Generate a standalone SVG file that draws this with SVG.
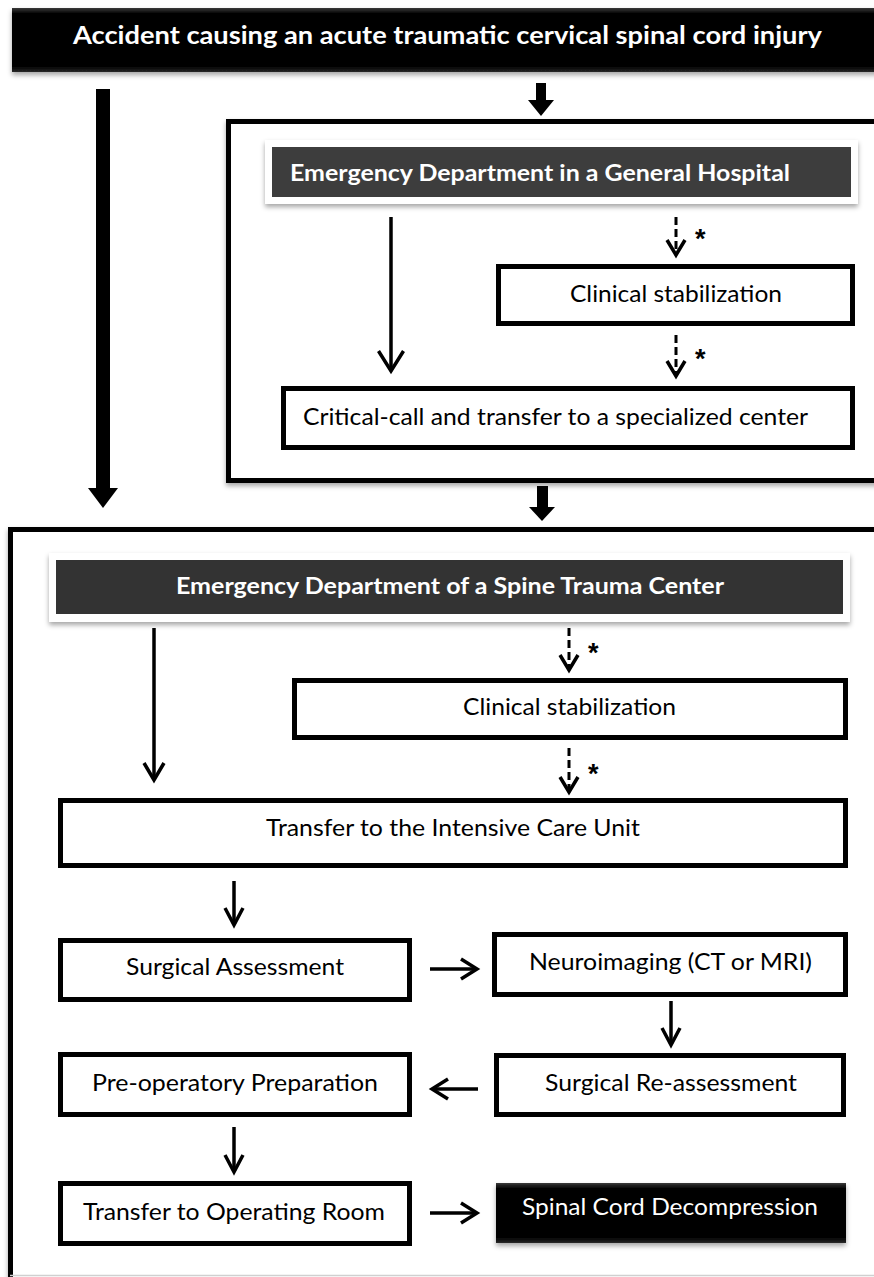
<svg xmlns="http://www.w3.org/2000/svg" width="874" height="1277" viewBox="0 0 874 1277">
<defs>
<style>
.box{fill:#fff;stroke:#000;stroke-width:5}
.cont{fill:#fff;stroke:#000;stroke-width:5}
.t{font-family:Lato,"Open Sans","Liberation Sans",sans-serif;font-size:22.5px;fill:#000;text-anchor:start}
.tw{font-family:Lato,"Open Sans","Liberation Sans",sans-serif;fill:#fff;font-weight:bold}
.ln{stroke:#000;fill:none;stroke-width:3.5}
.hd{stroke:#000;fill:none;stroke-width:3.5;stroke-linejoin:miter;stroke-linecap:butt}
.dash{stroke:#000;fill:none;stroke-width:3;stroke-dasharray:8 4}
.ast{font-family:"Liberation Sans",Arial,sans-serif;font-weight:bold;font-size:27px;fill:#000}
</style>
<filter id="sh" x="-5%" y="-20%" width="110%" height="150%">
<feDropShadow dx="0" dy="3" stdDeviation="2.5" flood-color="#000" flood-opacity="0.35"/>
</filter>
<linearGradient id="blk" x1="0" y1="0" x2="0" y2="1">
<stop offset="0" stop-color="#3a3a3a"/>
<stop offset="0.08" stop-color="#050505"/>
<stop offset="0.92" stop-color="#050505"/>
<stop offset="1" stop-color="#2a2a2a"/>
</linearGradient>
</defs>

<g id="accident">
<rect x="12" y="8" width="870" height="64" fill="url(#blk)" filter="url(#sh)"/>
<text class="tw" x="73" y="44" font-size="25" textLength="749" lengthAdjust="spacingAndGlyphs">Accident causing an acute traumatic cervical spinal cord injury</text>
</g>

<g id="general-hospital">
<rect class="cont" x="228.5" y="121.5" width="660" height="359" filter="url(#sh)"/>
</g>

<g id="ed-general">
<rect x="265" y="140" width="593" height="64" fill="#fff" filter="url(#sh)"/>
<rect x="272" y="147" width="579" height="50" fill="#3d3d3d"/>
<text class="tw" x="290" y="181" font-size="23" textLength="500" lengthAdjust="spacingAndGlyphs">Emergency Department in a General Hospital</text>
</g>

<g id="clin-stab-1">
<rect class="box" x="498.5" y="266.5" width="354" height="57"/>
<text class="t" x="570" y="302" textLength="212" lengthAdjust="spacingAndGlyphs">Clinical stabilization</text>
</g>

<g id="critical-call">
<rect class="box" x="283.5" y="388.5" width="569" height="59"/>
<text class="t" x="303" y="425" textLength="505" lengthAdjust="spacingAndGlyphs">Critical-call and transfer to a specialized center</text>
</g>

<g id="spine-center">
<rect class="cont" x="10.5" y="529.5" width="880" height="770" filter="url(#sh)"/>
<line x1="10" y1="1275.5" x2="874" y2="1275.5" stroke="#d0d0d0" stroke-width="1.5"/>
</g>

<g id="ed-spine">
<rect x="49" y="553" width="801" height="69" fill="#fff" filter="url(#sh)"/>
<rect x="56" y="560" width="787" height="54" fill="#333"/>
<text class="tw" x="176" y="594" font-size="23" textLength="548" lengthAdjust="spacingAndGlyphs">Emergency Department of a Spine Trauma Center</text>
</g>

<g id="clin-stab-2">
<rect class="box" x="294.5" y="680.5" width="551" height="57"/>
<text class="t" x="463" y="715" textLength="213" lengthAdjust="spacingAndGlyphs">Clinical stabilization</text>
</g>

<g id="icu">
<rect class="box" x="60.5" y="800.5" width="785" height="65"/>
<text class="t" x="266" y="836" textLength="374" lengthAdjust="spacingAndGlyphs">Transfer to the Intensive Care Unit</text>
</g>

<g id="surgical-assessment">
<rect class="box" x="60.5" y="940.5" width="349" height="59"/>
<text class="t" x="126" y="975" textLength="218" lengthAdjust="spacingAndGlyphs">Surgical Assessment</text>
</g>

<g id="neuroimaging">
<rect class="box" x="494.5" y="934.5" width="351" height="60"/>
<text class="t" x="529" y="970" textLength="283" lengthAdjust="spacingAndGlyphs">Neuroimaging (CT or MRI)</text>
</g>

<g id="surgical-reassessment">
<rect class="box" x="496.5" y="1055.5" width="347" height="59"/>
<text class="t" x="545" y="1091" textLength="252" lengthAdjust="spacingAndGlyphs">Surgical Re-assessment</text>
</g>

<g id="preop">
<rect class="box" x="60.5" y="1054.5" width="349" height="60"/>
<text class="t" x="92" y="1091" textLength="286" lengthAdjust="spacingAndGlyphs">Pre-operatory Preparation</text>
</g>

<g id="transfer-or">
<rect class="box" x="60.5" y="1183.5" width="349" height="60"/>
<text class="t" x="83" y="1220" textLength="302" lengthAdjust="spacingAndGlyphs">Transfer to Operating Room</text>
</g>

<g id="decompression">
<rect x="496" y="1183" width="350" height="60" fill="url(#blk)" filter="url(#sh)"/>
<text class="tw" x="522" y="1215" font-size="22.5" style="font-weight:normal" textLength="296" lengthAdjust="spacingAndGlyphs">Spinal Cord Decompression</text>
</g>

<g id="connectors">
<rect x="96" y="89" width="14" height="401" fill="#000"/>
<polygon points="88,488 118,488 103,508" fill="#000"/>
<rect x="536" y="83" width="10" height="19" fill="#000"/>
<polygon points="528,100 554,100 541,116" fill="#000"/>
<rect x="537" y="486" width="11" height="23" fill="#000"/>
<polygon points="529,507 555,507 542,521" fill="#000"/>

<line class="ln" x1="391" y1="217" x2="391" y2="370" stroke-width="4"/>
<path class="hd" d="M378.5,351 L391,371 L403.5,351" stroke-width="4.5"/>
<line class="dash" x1="676" y1="217" x2="676" y2="253"/>
<path class="hd" d="M667,240 L676,255 L685,240"/>
<text class="ast" x="695" y="248">*</text>
<line class="dash" x1="676" y1="335" x2="676" y2="374"/>
<path class="hd" d="M667,361 L676,376 L685,361"/>
<text class="ast" x="695" y="368">*</text>

<line class="ln" x1="154" y1="628" x2="154" y2="779" stroke-width="2.5"/>
<path class="hd" d="M144,763 L154,780 L164,763" stroke-width="3"/>
<line class="dash" x1="569" y1="628" x2="569" y2="668"/>
<path class="hd" d="M560,655 L569,670 L578,655"/>
<text class="ast" x="588" y="662">*</text>
<line class="dash" x1="569" y1="748" x2="569" y2="790"/>
<path class="hd" d="M560,777 L569,792 L578,777"/>
<text class="ast" x="588" y="783">*</text>

<line class="ln" x1="234" y1="881" x2="234" y2="924" stroke-width="3"/>
<path class="hd" d="M225,908 L234,925 L243,908" stroke-width="3"/>

<line class="ln" x1="430" y1="969" x2="475" y2="969" stroke-width="3"/>
<path class="hd" d="M461,959 L477,969 L461,979" stroke-width="3"/>

<line class="ln" x1="671" y1="1001" x2="671" y2="1044" stroke-width="3"/>
<path class="hd" d="M662,1028 L671,1045 L680,1028" stroke-width="3"/>

<line class="ln" x1="478" y1="1089" x2="434" y2="1089" stroke-width="3"/>
<path class="hd" d="M448,1079 L432,1089 L448,1099" stroke-width="3"/>

<line class="ln" x1="234" y1="1127" x2="234" y2="1171" stroke-width="3"/>
<path class="hd" d="M225,1155 L234,1172 L243,1155" stroke-width="3"/>

<line class="ln" x1="430" y1="1213" x2="475" y2="1213" stroke-width="3"/>
<path class="hd" d="M461,1203 L477,1213 L461,1223" stroke-width="3"/>
</g>
</svg>
